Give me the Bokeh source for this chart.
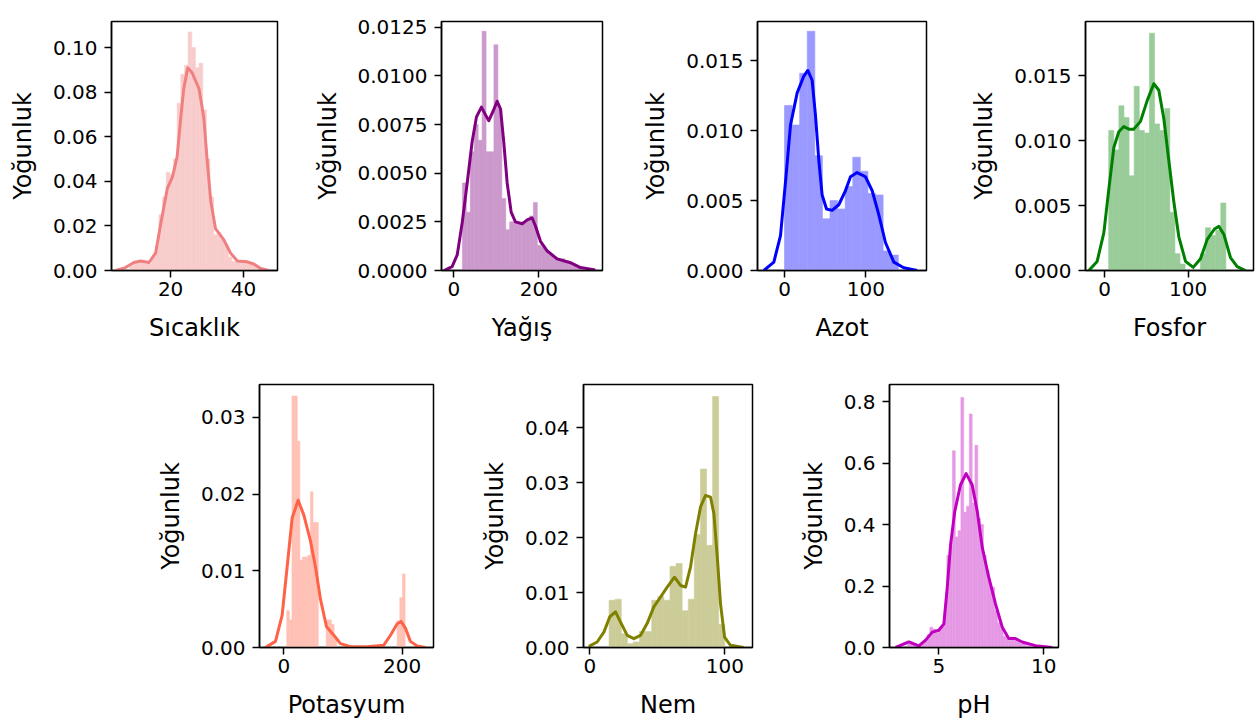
import numpy as np
from bokeh.plotting import figure
from bokeh.models import Range1d, FixedTicker, PrintfTickFormatter, Spacer
from bokeh.layouts import row, column
from bokeh.embed import file_html
from bokeh.resources import INLINE

# ---------------- data ----------------
y_label = "Yoğunluk"

# Sıcaklık
temp_bin_start, temp_bin_width = 8.8, 1.0
temp_hist = [0.002, 0.004, 0.004, 0.004, 0.003, 0.003, 0.006, 0.011, 0.025, 0.033,
             0.044, 0.043, 0.050, 0.075, 0.088, 0.092, 0.107, 0.100, 0.091, 0.093,
             0.072, 0.050, 0.033, 0.016, 0.017, 0.014, 0.011, 0.006, 0.004, 0.004,
             0.004, 0.004, 0.004, 0.003, 0.002]
temp_kde_x = [4.9, 7.5, 9.95, 11.8, 14.1, 15.9, 17.3, 19.1, 20.5, 21.8, 22.7, 23.6, 24.7,
              25.9, 27.8, 29.1, 30.0, 31.0, 32.3, 34.6, 36.4, 38.3, 41.0, 42.8, 44.7, 46.9]
temp_kde_y = [0.0, 0.0012, 0.0036, 0.0043, 0.0036, 0.0079, 0.021, 0.0368, 0.0419, 0.0512,
              0.0671, 0.0815, 0.0909, 0.0887, 0.0815, 0.0685, 0.0498, 0.0312, 0.0188,
              0.0137, 0.0079, 0.0043, 0.0039, 0.0029, 0.0009, 0.0]

# Yağış
rain_bin_start, rain_bin_width = 20.2, 9.28
rain_hist = [0.0045, 0.0030, 0.0061, 0.0075, 0.0067, 0.0123, 0.0061, 0.0061, 0.0116, 0.0083,
             0.0037, 0.0021, 0.0025, 0.0025, 0.0024, 0.0025, 0.0026, 0.0028, 0.0035, 0.0013,
             0.0012, 0.0010, 0.0008, 0.0007, 0.0006, 0.0006, 0.0005, 0.0004, 0.0003, 0.0002]
rain_kde_x = [-23, -4, 8, 20, 31.5, 43, 53.4, 65, 74.6, 82.4, 92.7, 102, 110, 117.6, 125.6,
              135, 145, 161, 172.7, 184.5, 192, 204, 220, 243, 274.6, 298, 333]
rain_kde_y = [0, 0.0002, 0.0008, 0.0025, 0.0045, 0.0066, 0.0079, 0.0084, 0.0080, 0.0077,
              0.0082, 0.0087, 0.0083, 0.0066, 0.0045, 0.0030, 0.0025, 0.0024, 0.0026,
              0.0027, 0.0023, 0.0015, 0.0010, 0.0006, 0.0004, 0.00015, 0.00003]

# Azot
n_bin_start, n_bin_width = 0.0, 9.333
n_hist = [0.0118, 0.0104, 0.0141, 0.0171, 0.0082, 0.0037, 0.0050, 0.0044, 0.0060, 0.0081,
          0.0071, 0.0055, 0.0054, 0.0014, 0.0011]
n_kde_x = [-25.4, -13.1, -4.9, 1.2, 7.4, 15.6, 23.8, 28.7, 34, 38.1, 42.2, 46.3, 51.7, 58.6,
           66.8, 75, 81.2, 89.4, 99.6, 107.9, 116, 124.2, 134.5, 146.7, 163.2]
n_kde_y = [0, 0.0006, 0.0025, 0.0063, 0.0104, 0.0127, 0.0139, 0.0143, 0.0136, 0.0111, 0.0079,
           0.0054, 0.0044, 0.0043, 0.0047, 0.0057, 0.0067, 0.0070, 0.0067, 0.0057, 0.0040,
           0.0020, 0.0006, 0.0002, 0.0]

# Fosfor
p_bin_start, p_bin_width = 5.0, 6.087
p_hist = [0.0108, 0.0093, 0.0127, 0.0118, 0.0073, 0.0142, 0.0108, 0.0106, 0.0183, 0.0113,
          0.0108, 0.0125, 0.0045, 0.0013, 0.0005, 0.0, 0.0, 0.0, 0.0013, 0.0033, 0.0027,
          0.0031, 0.0052]
p_kde_x = [-18.7, -8.8, -0.8, 5.2, 11.2, 17.1, 23.1, 29.1, 35, 43, 51, 58.9, 64.9, 70.9, 76.8,
           82.8, 88.8, 96.8, 106, 114.7, 122.7, 131.4, 136.6, 142.5, 150.5, 158.5, 168.5]
p_kde_y = [0, 0.0007, 0.0029, 0.0063, 0.0095, 0.0107, 0.0111, 0.0109, 0.0109, 0.0115, 0.0131,
           0.0144, 0.0139, 0.0117, 0.0085, 0.0053, 0.0026, 0.0007, 0.00024, 0.0009, 0.0024,
           0.0032, 0.0034, 0.0028, 0.0010, 0.0003, 0.0]

# Potasyum
k_bin_start, k_bin_width = 5.0, 4.444
k_hist = [0.0048, 0.0036, 0.0328, 0.0328, 0.0269, 0.0114, 0.0118, 0.0118, 0.0120, 0.0203,
          0.0163, 0.0163, 0.0, 0.0, 0.0, 0.0036, 0.0036, 0.0030, 0.0010,
          0.0, 0.0, 0.0, 0.0, 0.0, 0.0, 0.0, 0.0, 0.0, 0.0, 0.0, 0.0, 0.0, 0.0, 0.0, 0.0,
          0.0, 0.0, 0.0, 0.0, 0.0, 0.0, 0.0, 0.0035, 0.0065, 0.0096]
k_kde_x = [-31, -14, -2.8, 5.7, 14.2, 24.3, 33.8, 45.1, 53.6, 62, 72.2, 84.6, 95.8, 112.7, 141,
           169, 180.3, 191.6, 198.4, 205.7, 214, 225.4, 239.4]
k_kde_y = [0, 0.0008, 0.0042, 0.0105, 0.0169, 0.0192, 0.0173, 0.0139, 0.0105, 0.0063, 0.0027,
           0.0016, 0.0005, 0.0001, 0.0001, 0.0003, 0.0016, 0.0031, 0.0034, 0.0025, 0.0008,
           0.0002, 0.0]

# Nem
h_bin_start, h_bin_width = 14.26, 4.51
h_hist = [0.0086, 0.0088, 0.0025, 0.0007, 0.0010, 0.0029, 0.0029, 0.0086, 0.0093, 0.0086,
          0.0148, 0.0153, 0.0067, 0.0088, 0.0206, 0.0325, 0.0186, 0.0457, 0.0042]
h_kde_x = [-0.7, 5.4, 10.4, 14.8, 19, 23.2, 27.7, 32.6, 37.5, 42.5, 47.4, 52.4, 57.3, 62.7,
           67.2, 70.9, 74.6, 78.3, 82, 85.7, 89.4, 91.9, 94.4, 96.8, 99.8, 104.2, 114]
h_kde_y = [0.0002, 0.001, 0.0028, 0.0056, 0.0065, 0.0044, 0.0022, 0.0016, 0.0022, 0.0044,
           0.0074, 0.0092, 0.0110, 0.0128, 0.0113, 0.0110, 0.0147, 0.0207, 0.0256, 0.0277,
           0.0274, 0.0244, 0.0165, 0.0080, 0.0019, 0.0004, 0.0]

# pH
ph_bin_start, ph_bin_width = 3.505, 0.134
ph_hist = [0.012, 0.018, 0.012, 0.006, 0.006, 0.012, 0.024, 0.042, 0.066, 0.060,
           0.048, 0.054, 0.072, 0.120, 0.300, 0.330, 0.640, 0.360, 0.380, 0.814,
           0.440, 0.460, 0.760, 0.470, 0.658, 0.420, 0.400, 0.300, 0.250, 0.200,
           0.196, 0.120, 0.080, 0.060, 0.036, 0.030, 0.024, 0.030, 0.024, 0.018,
           0.012, 0.012, 0.006, 0.006, 0.006, 0.006, 0.003, 0.003]
ph_kde_x = [2.94, 3.57, 4.05, 4.37, 4.69, 5.0, 5.24, 5.4, 5.56, 5.76, 6.03, 6.30, 6.59, 6.83,
            7.07, 7.38, 7.70, 8.02, 8.33, 8.65, 8.97, 9.60, 10.4]
ph_kde_y = [0.0, 0.018, 0.005, 0.024, 0.050, 0.056, 0.077, 0.195, 0.335, 0.443, 0.529, 0.566,
            0.529, 0.443, 0.325, 0.228, 0.142, 0.066, 0.029, 0.029, 0.018, 0.006, 0.0]

FONT = "DejaVu Sans"


def panel(width, height, borders, xr, yr, xticks, yticks, xfmt, yfmt, xlabel, color, bar_color,
          bin_start, bin_width, hist, kx, ky):
    bl, br, bt, bb = borders
    p = figure(width=width, height=height, x_range=Range1d(*xr), y_range=Range1d(*yr),
               output_backend="svg", toolbar_location=None,
               min_border_left=bl, min_border_right=br, min_border_top=bt, min_border_bottom=bb)
    p.xgrid.visible = False
    p.ygrid.visible = False
    p.outline_line_color = "black"
    p.outline_line_alpha = 1.0
    p.outline_line_width = 1.5
    p.background_fill_color = "white"
    p.border_fill_color = "white"
    edges = bin_start + bin_width * np.arange(len(hist) + 1)
    # bar colour = line colour at 40% opacity over white (opaque so that no seams show)
    p.quad(left=edges[:-1], right=edges[1:], bottom=0, top=hist,
           fill_color=bar_color, line_color=bar_color, line_width=0.6)
    p.line(kx, ky, line_color=color, line_width=3, line_join="round")
    p.xaxis.ticker = FixedTicker(ticks=xticks)
    p.yaxis.ticker = FixedTicker(ticks=yticks)
    p.xaxis.formatter = PrintfTickFormatter(format=xfmt)
    p.yaxis.formatter = PrintfTickFormatter(format=yfmt)
    p.xaxis.axis_label = xlabel
    p.yaxis.axis_label = y_label
    for ax in (p.xaxis[0], p.yaxis[0]):
        ax.axis_line_color = "black"
        ax.axis_line_width = 1.5
        ax.major_tick_line_color = "black"
        ax.major_tick_line_width = 1.5
        ax.minor_tick_line_color = None
        ax.major_tick_in = 0
        ax.major_tick_out = 7
        ax.major_label_text_font = FONT
        ax.major_label_text_font_size = "20px"
        ax.major_label_text_color = "black"
        ax.axis_label_text_font = FONT
        ax.axis_label_text_font_size = "24px"
        ax.axis_label_text_font_style = "normal"
        ax.axis_label_text_color = "black"
    p.yaxis.major_label_standoff = 7
    p.yaxis.axis_label_standoff = 13
    p.xaxis.major_label_standoff = 4
    p.xaxis.axis_label_standoff = 15
    return p


# row 1: frames at x 111-277, 441-602, 757-926, 1085-1253 ; y top 12/21/8/7, bottom 270
f1 = panel(300, 355, (111, 23, 12, 85), (3.8, 49.3), (0, 0.1117), [20, 40],
           [0, 0.02, 0.04, 0.06, 0.08, 0.10], "%d", "%.2f", "Sıcaklık", "#F08080", "#F9CCCC",
           temp_bin_start, temp_bin_width, temp_hist, temp_kde_x, temp_kde_y)
f2 = panel(307, 355, (141, 5, 21, 85), (-29, 350), (0, 0.0128), [0, 200],
           [0, 0.0025, 0.005, 0.0075, 0.01, 0.0125], "%d", "%.4f", "Yağış", "#800080", "#CC99CC",
           rain_bin_start, rain_bin_width, rain_hist, rain_kde_x, rain_kde_y)
f3 = panel(328, 355, (150, 9, 8, 85), (-33.2, 174.7), (0, 0.0178), [0, 100],
           [0, 0.005, 0.01, 0.015], "%d", "%.3f", "Azot", "#0000FF", "#9999FF",
           n_bin_start, n_bin_width, n_hist, n_kde_x, n_kde_y)
f4 = panel(325, 355, (150, 7, 7, 85), (-22.7, 178), (0, 0.0192), [0, 100],
           [0, 0.005, 0.01, 0.015], "%d", "%.3f", "Fosfor", "#008000", "#99CC99",
           p_bin_start, p_bin_width, p_hist, p_kde_x, p_kde_y)
# row 2: frames at x 259-433, 583-752, 889-1058 ; y top 377/384/382, bottom 647
f5 = panel(300, 367, (119, 7, 22, 75), (-41, 253), (0, 0.0343), [0, 200],
           [0, 0.01, 0.02, 0.03], "%d", "%.2f", "Potasyum", "#FF6347", "#FFC1B5",
           k_bin_start, k_bin_width, k_hist, k_kde_x, k_kde_y)
f6 = panel(330, 367, (143, 18, 29, 75), (-4.7, 120.5), (0, 0.0479), [0, 100],
           [0, 0.01, 0.02, 0.03, 0.04], "%d", "%.2f", "Nem", "#808000", "#CCCC99",
           h_bin_start, h_bin_width, h_hist, h_kde_x, h_kde_y)
f7 = panel(300, 367, (119, 12, 27, 75), (2.65, 10.7), (0, 0.856), [5, 10],
           [0, 0.2, 0.4, 0.6, 0.8], "%d", "%.1f", "pH", "#BF00BF", "#E599E5",
           ph_bin_start, ph_bin_width, ph_hist, ph_kde_x, ph_kde_y)

layout = column(row(f1, f2, f3, f4), row(Spacer(width=140, height=367), f5, f6, f7))

open("out.html", "w").write(file_html(layout, INLINE))
